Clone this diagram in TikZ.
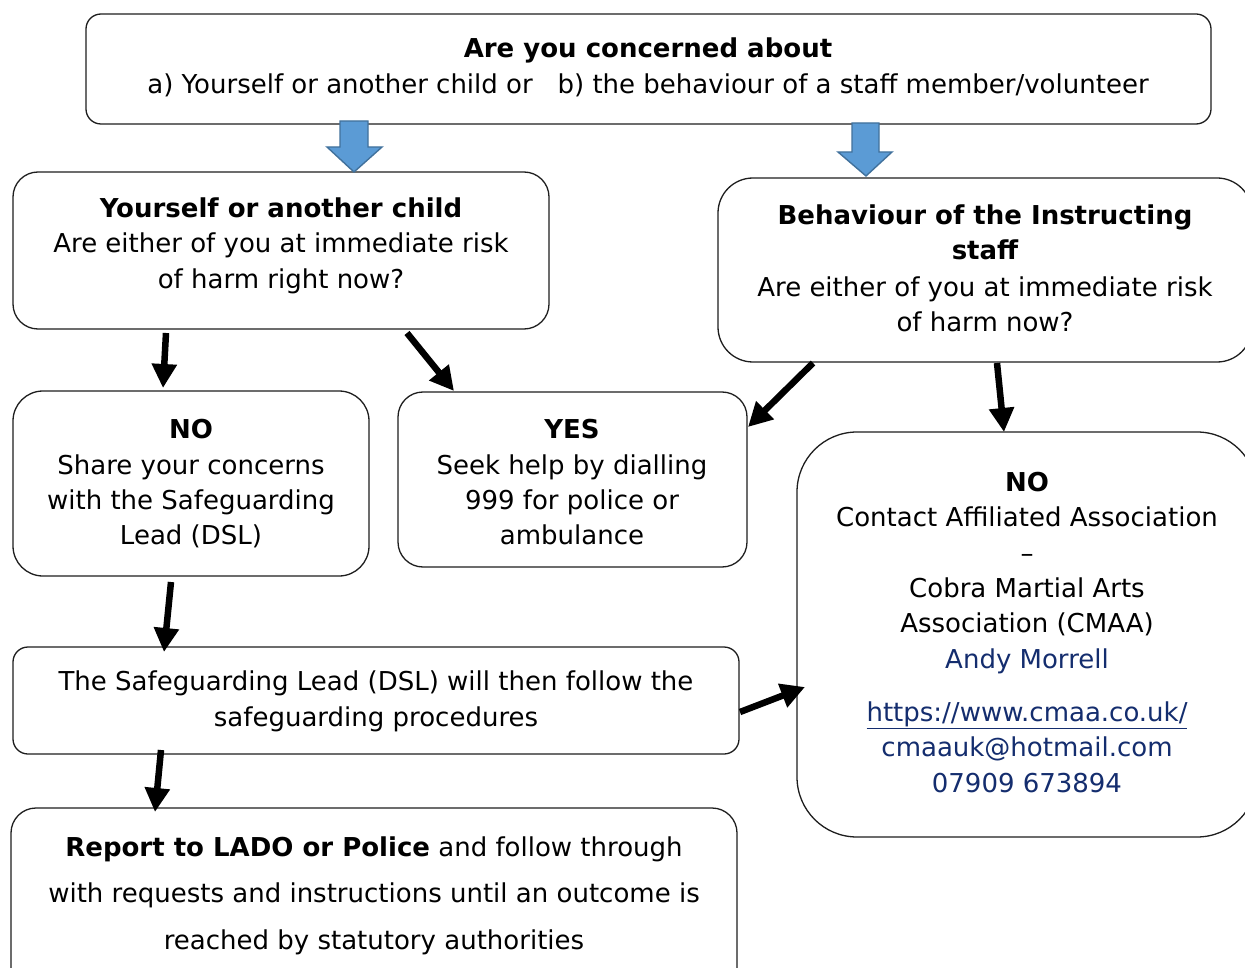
\documentclass[tikz,border=0pt]{standalone}
\usepackage{fontspec}
\setmainfont{DejaVu Sans}
\usetikzlibrary{arrows.meta,calc}
\definecolor{navy}{RGB}{20,45,110}
\definecolor{arrowfill}{RGB}{91,155,213}
\definecolor{arrowline}{RGB}{65,113,156}
\definecolor{boxline}{RGB}{30,30,30}
\tikzset{
  box/.style={draw=boxline, line width=1.3pt, inner sep=0pt, fill=none},
  txt/.style={anchor=base, inner sep=0pt, font=\fontsize{26}{30}\selectfont},
  bold/.style={txt, font=\fontsize{26}{30}\selectfont\bfseries},
  blk/.style={line width=6.5pt, -{Triangle[length=24pt,width=24pt]}},
  blockarrow/.style={fill=arrowfill, draw=arrowline, line width=1.4pt, line join=miter},
}
\begin{document}
\begin{tikzpicture}[x=1pt,y=-1pt]
\useasboundingbox (0,0) rectangle (1245,968);
\clip (0,0) rectangle (1245,968);
\fill[white] (0,0) rectangle (1245,968);
% boxes
\node[box, minimum width=1125pt, minimum height=110pt, rounded corners=15pt] (top) at (648.5,69) {};
\node[box, minimum width=536pt, minimum height=157pt, rounded corners=25pt] (self) at (281,250.5) {};
\node[box, minimum width=534pt, minimum height=184pt, rounded corners=35pt] (staff) at (985,270) {};
\node[box, minimum width=356pt, minimum height=185pt, rounded corners=30pt] (noleft) at (191,483.5) {};
\node[box, minimum width=349pt, minimum height=175pt, rounded corners=25pt] (yes) at (572.5,479.5) {};
\node[box, minimum width=460pt, minimum height=405pt, rounded corners=60pt] (noright) at (1027,634.5) {};
\node[box, minimum width=726pt, minimum height=107pt, rounded corners=15pt] (dsl) at (376,700.5) {};
\node[box, minimum width=726pt, minimum height=187pt, rounded corners=25pt] (report) at (374,901.5) {};
% blue block arrows
\draw[blockarrow] (340,121) -- (368,121) -- (368,147) -- (382,147) -- (354,172) -- (327,147) -- (340,147) -- cycle;
\draw[blockarrow] (852,123) -- (879,123) -- (879,152) -- (892,152) -- (866,176) -- (838,152) -- (852,152) -- cycle;
% texts
\node[bold] (t1) at (648,58) {Are you concerned about};
\node[txt] (t2) at (648,94) {a) Yourself or another child or \ \ b) the behaviour of a staff member/volunteer};
\node[bold] (s1) at (281,218) {Yourself or another child};
\node[txt] (s2) at (281,253) {Are either of you at immediate risk};
\node[txt] (s3) at (281,289) {of harm right now?};
\node[bold] (b1) at (985,225) {Behaviour of the Instructing};
\node[bold] (b2) at (985,260) {staff};
\node[txt] (b3) at (985,297) {Are either of you at immediate risk};
\node[txt] (b4) at (985,331) {of harm now?};
\node[bold] (n1) at (191,438) {NO};
\node[txt] (n2) at (191,474) {Share your concerns};
\node[txt] (n3) at (191,509) {with the Safeguarding};
\node[txt] (n4) at (191,544) {Lead (DSL)};
\node[bold] (y1) at (572,438) {YES};
\node[txt] (y2) at (572,474) {Seek help by dialling};
\node[txt] (y3) at (572,509) {999 for police or};
\node[txt] (y4) at (572,544) {ambulance};
\node[bold] (r1) at (1027,491) {NO};
\node[txt] (r2) at (1027,526) {Contact Affiliated Association};
\node[txt] (r3) at (1027,562) {–};
\node[txt] (r4) at (1027,597) {Cobra Martial Arts};
\node[txt] (r5) at (1027,632) {Association (CMAA)};
\node[txt, text=navy] (r6) at (1027,668) {Andy Morrell};
\node[txt, text=navy] (r7) at (1027,721) {\underline{https://www.cmaa.co.uk/}};
\node[txt, text=navy] (r8) at (1027,756) {cmaauk@hotmail.com};
\node[txt, text=navy] (r9) at (1027,792) {07909 673894};
\node[txt] (d1) at (376,690) {The Safeguarding Lead (DSL) will then follow the};
\node[txt] (d2) at (376,726) {safeguarding procedures};
\node[txt] (p1) at (374,856) {\textbf{Report to LADO or Police} and follow through};
\node[txt] (p2) at (374,902) {with requests and instructions until an outcome is};
\node[txt] (p3) at (374,949) {reached by statutory authorities};
% black arrows
\coordinate (a1s) at (166,333); \coordinate (a1e) at (163,388);
\coordinate (a2s) at (407,333); \coordinate (a2e) at (454,391);
\coordinate (a3s) at (813,363); \coordinate (a3e) at (748,427);
\coordinate (a4s) at (997,363); \coordinate (a4e) at (1004,432);
\coordinate (a5s) at (171,582); \coordinate (a5e) at (164,652);
\coordinate (a6s) at (161,750); \coordinate (a6e) at (155,812);
\coordinate (a7s) at (740,712); \coordinate (a7e) at (805,687);
\draw[blk] (a1s) -- (a1e);
\draw[blk] (a2s) -- (a2e);
\draw[blk] (a3s) -- (a3e);
\draw[blk] (a4s) -- (a4e);
\draw[blk] (a5s) -- (a5e);
\draw[blk] (a6s) -- (a6e);
\draw[blk] (a7s) -- (a7e);
\end{tikzpicture}
\end{document}
